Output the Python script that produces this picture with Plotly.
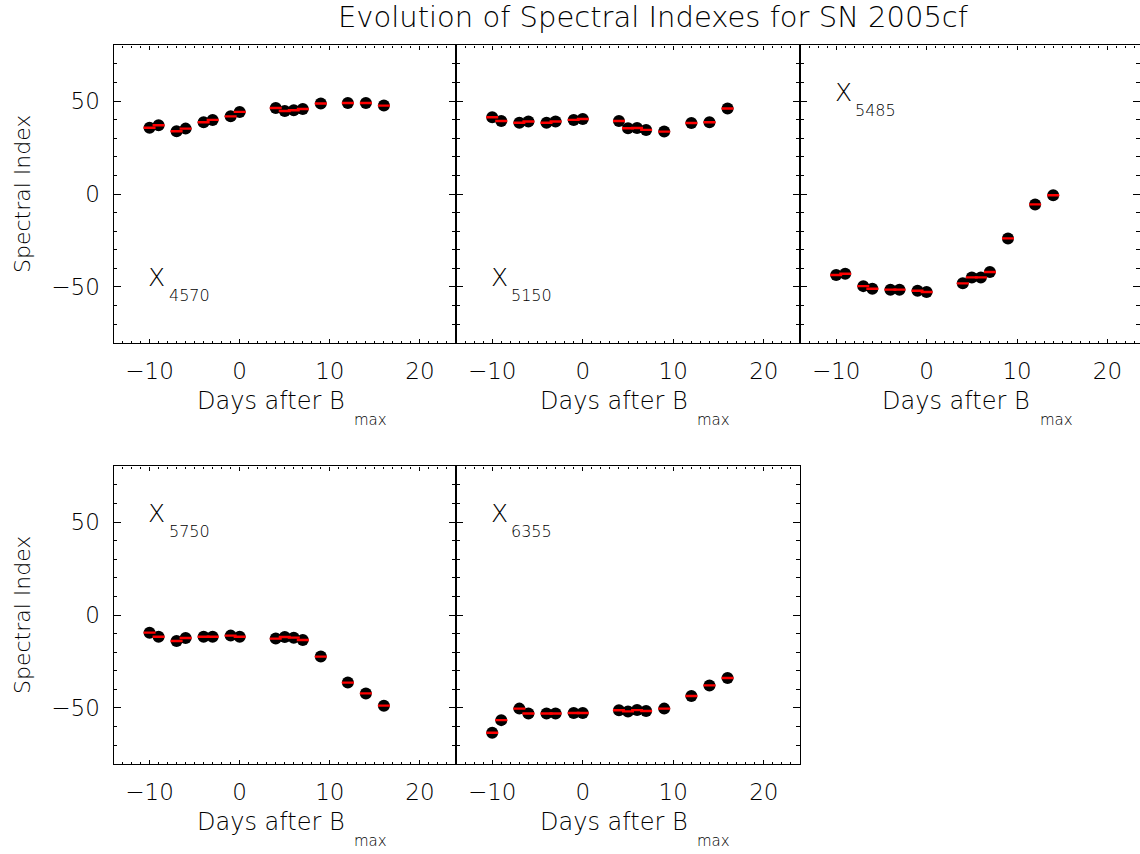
import plotly.graph_objects as go

# Days after B maximum for each spectrum
days = [-10, -9, -7, -6, -4, -3, -1, 0, 4, 5, 6, 7, 9, 12, 14, 16]
days_5485 = [-10, -9, -7, -6, -4, -3, -1, 0, 4, 5, 6, 7, 9, 12, 14]

# Spectral index values
x4570 = [35.7, 37.0, 33.8, 35.2, 38.6, 39.9, 41.8, 44.2, 46.3, 44.7, 45.1, 45.8, 48.7, 49.0, 49.0, 47.6]
x5150 = [41.3, 39.3, 38.4, 39.0, 38.4, 39.0, 39.9, 40.4, 39.3, 35.4, 35.5, 34.5, 33.6, 38.2, 38.6, 46.0]
x5485 = [-43.6, -42.9, -49.6, -51.0, -51.5, -51.5, -52.1, -52.8, -48.1, -44.9, -44.9, -42.0, -23.9, -5.6, -0.7]
x5750 = [-9.5, -11.7, -14.0, -12.4, -11.7, -11.7, -11.1, -11.7, -12.7, -11.8, -12.2, -13.5, -22.4, -36.4, -42.2, -48.8]
x6355 = [-63.4, -56.6, -50.4, -53.0, -53.0, -53.0, -52.8, -52.8, -51.3, -51.9, -51.2, -51.7, -50.4, -43.6, -37.9, -33.9]

index_names = ["4570", "5150", "5485", "5750", "6355"]
index_err = 0.3

W, H = 1140, 854
FONT = "DejaVu Sans"
FW = 200


def px(x):
    return x / W


def py(y):
    return 1 - y / H


# panel grid: column / row domains and x ranges
col_dom = [(px(113.5), px(456)), (px(456), px(800)), (px(800), 1.0)]
col_rng = [[-14, 24], [-14, 24], [-14, 23.6]]
row_dom = [(py(342.6), py(45.4)), (py(763.6), py(466.4))]

panels = [
    (days, x4570, index_names[0], 0, 0, False),
    (days, x5150, index_names[1], 1, 0, False),
    (days_5485, x5485, index_names[2], 2, 0, True),
    (days, x5750, index_names[3], 0, 1, True),
    (days, x6355, index_names[4], 1, 1, True),
]

fig = go.Figure()
annotations = []

for i, (d, v, name, col, row, top) in enumerate(panels):
    n = "" if i == 0 else str(i + 1)
    xa, ya = "x" + n, "y" + n
    fig.add_trace(go.Scatter(
        x=d, y=v, xaxis=xa, yaxis=ya, mode="markers",
        marker=dict(color="black", size=12, line=dict(width=0)),
        showlegend=False, hoverinfo="x+y",
    ))
    # red error bars drawn over the points
    fig.add_trace(go.Scatter(
        x=d, y=v, xaxis=xa, yaxis=ya, mode="markers",
        marker=dict(color="rgba(0,0,0,0)", size=1),
        error_y=dict(type="constant", value=index_err, color="red",
                     thickness=1.3, width=6),
        showlegend=False, hoverinfo="skip",
    ))

    axis_common = dict(
        showline=True, linecolor="black", linewidth=1.2, mirror="ticks",
        ticks="inside", tickcolor="black", showgrid=False, zeroline=False,
        tickfont=dict(family=FONT, size=23, color="black", weight=FW),
    )
    fig.layout["xaxis" + n] = dict(
        axis_common, domain=list(col_dom[col]), range=col_rng[col],
        anchor=ya, tick0=0, dtick=10, ticklen=4, tickwidth=1,
        minor=dict(dtick=1, ticklen=2, ticks="inside", tickcolor="black"),
        ticklabelstandoff=8,
    )
    fig.layout["yaxis" + n] = dict(
        axis_common, domain=list(row_dom[row]), range=[-80, 80],
        anchor=xa, tick0=0, dtick=50, ticklen=7, tickwidth=1,
        minor=dict(dtick=10, ticklen=3.5, ticks="inside", tickcolor="black"),
        showticklabels=(col == 0), ticklabelstandoff=8,
    )

    # index label, X with subscript
    ly = 54.5 if top else -45
    annotations.append(dict(
        x=-9.2, y=ly, xref=xa, yref=ya, text="X", showarrow=False,
        xanchor="center", yanchor="middle",
        font=dict(family=FONT, size=25, color="black", weight=FW),
    ))
    annotations.append(dict(
        x=-8.1, y=ly - 9.7, xref=xa, yref=ya, text=name, showarrow=False,
        xanchor="left", yanchor="middle",
        font=dict(family=FONT, size=16, color="black", weight=FW),
    ))

    # x-axis title with subscript
    cx = (col_dom[col][0] + min(col_dom[col][1], px(1142))) / 2 * W
    base = 343 if row == 0 else 764
    annotations.append(dict(
        x=px(cx - 14), y=py(base + 58), xref="paper", yref="paper",
        text="Days after B", showarrow=False, xanchor="center", yanchor="middle",
        font=dict(family=FONT, size=24, color="black", weight=FW),
    ))
    annotations.append(dict(
        x=px(cx + 86), y=py(base + 77), xref="paper", yref="paper",
        text="max", showarrow=False, xanchor="center", yanchor="middle",
        font=dict(family=FONT, size=15, color="black", weight=FW),
    ))

# y-axis titles
for yc in (194, 615):
    annotations.append(dict(
        x=px(22), y=py(yc), xref="paper", yref="paper", text="Spectral Index",
        textangle=-90, showarrow=False, xanchor="center", yanchor="middle",
        font=dict(family=FONT, size=22, color="black", weight=FW),
    ))

# figure title
annotations.append(dict(
    x=px(653), y=py(17), xref="paper", yref="paper",
    text="Evolution of Spectral Indexes for SN 2005cf", showarrow=False,
    xanchor="center", yanchor="middle",
    font=dict(family=FONT, size=29, color="black", weight=FW),
))

fig.update_layout(
    width=W, height=H, margin=dict(l=0, r=0, t=0, b=0),
    paper_bgcolor="white", plot_bgcolor="white",
    annotations=annotations, showlegend=False,
)

fig.write_html("out.html")
